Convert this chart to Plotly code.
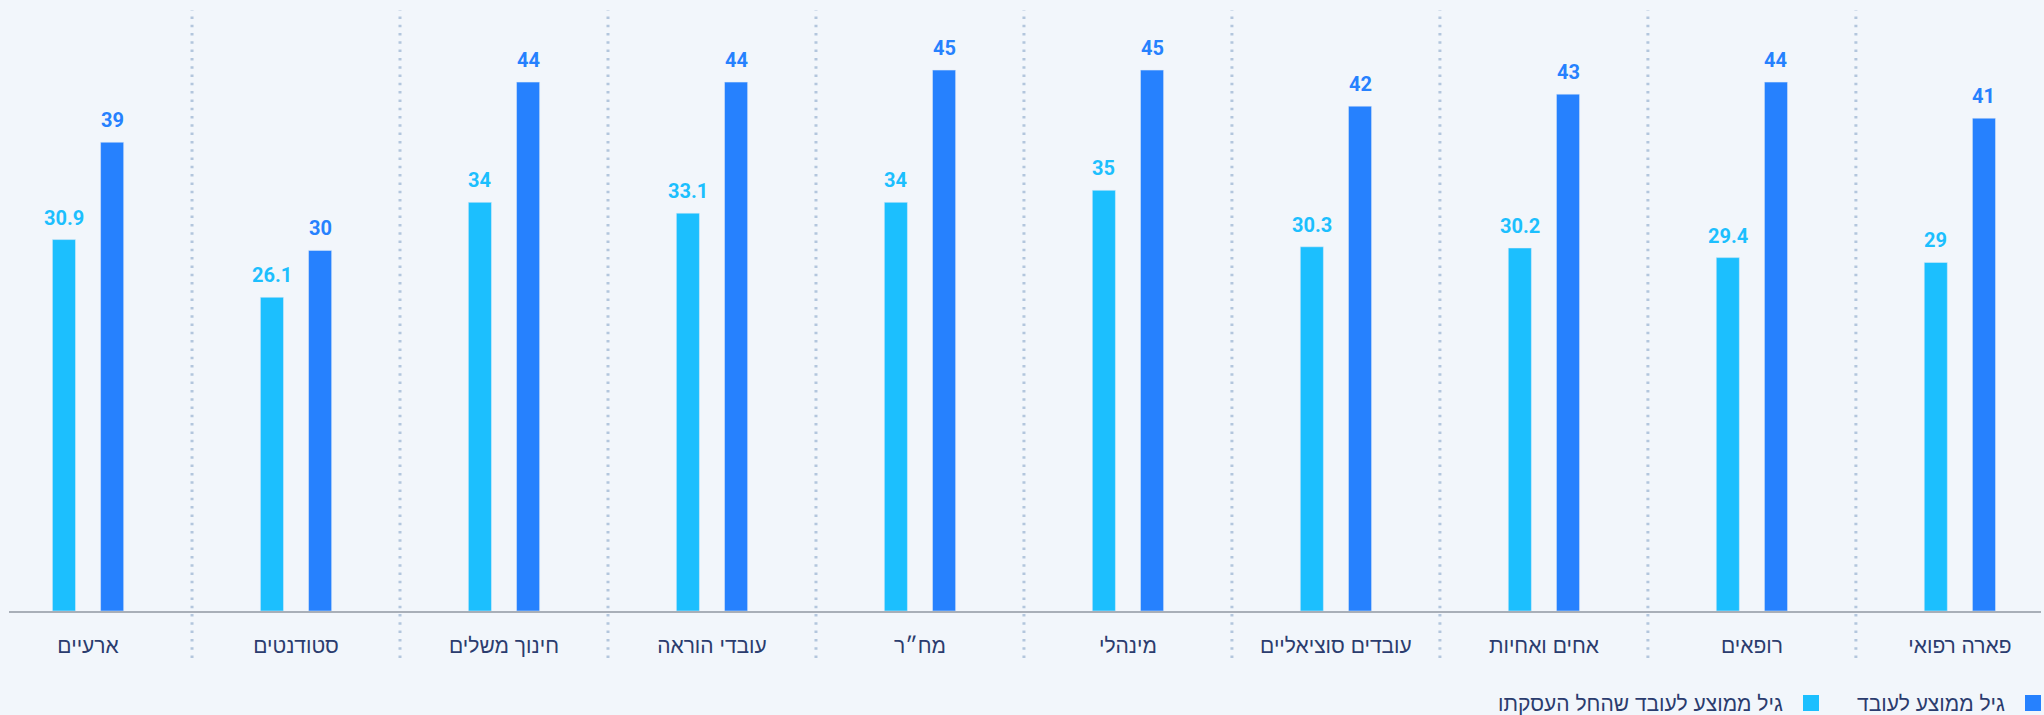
import plotly.graph_objects as go

categories = ["ארעיים", "סטודנטים", "חינוך משלים", "עובדי הוראה", "מח״ר",
              "מינהלי", "עובדים סוציאליים", "אחים ואחיות", "רופאים", "פארה רפואי"]
age_at_hire = [30.9, 26.1, 34, 33.1, 34, 35, 30.3, 30.2, 29.4, 29]
avg_age = [39, 30, 44, 44, 45, 45, 42, 43, 44, 41]

series_names = ["גיל ממוצע לעובד שהחל העסקתו", "גיל ממוצע לעובד"]
light = "#1CBFFE"
dark = "#2681FE"
navy = "#2B3C6E"
bg = "#F2F6FB"

W, H = 2044, 715
L, R, T, B = 9, 3, 10, 104
pw, ph = W - L - R, H - T - B


def px_x(p):
    return (p - L) / pw


def px_y(p):
    return (H - B - p) / ph


bw = 0.111
off = 0.1158

fig = go.Figure()
fig.add_bar(x=list(range(len(categories))), y=age_at_hire, name=series_names[0],
            marker_color=light, width=bw, offset=-off - bw / 2)
fig.add_bar(x=list(range(len(categories))), y=avg_age, name=series_names[1],
            marker_color=dark, width=bw, offset=off - bw / 2)

# value labels above bars
for i, (a, b) in enumerate(zip(age_at_hire, avg_age)):
    for v, dx, c in ((a, -off, light), (b, off, dark)):
        fig.add_annotation(x=i + dx, y=v, text=f"{v:g}", showarrow=False,
                           yanchor="bottom", yshift=8,
                           font=dict(family="Roboto", size=20, color=c, weight="bold"))

# dotted separators between categories
for i in range(len(categories) - 1):
    fig.add_shape(type="line", xref="x", yref="paper", x0=i + 0.5, x1=i + 0.5,
                  y0=px_y(658), y1=1, line=dict(color="#B3C6DD", width=3, dash="2.5px,5.8px"))

# legend drawn right-to-left
legend_items = [(series_names[1], dark, 2025, 2007), (series_names[0], light, 1803, 1785)]
for name, c, sq, tx in legend_items:
    fig.add_shape(type="rect", xref="paper", yref="paper",
                  x0=px_x(sq), x1=px_x(sq + 16), y0=px_y(711), y1=px_y(695),
                  fillcolor=c, line_width=0)
    fig.add_annotation(xref="paper", yref="paper", x=px_x(tx), y=px_y(703),
                       text=name, showarrow=False, xanchor="right", yanchor="middle",
                       font=dict(family="Liberation Sans", size=21, color=navy))

fig.update_xaxes(tickmode="array", tickvals=list(range(len(categories))), ticktext=categories,
                 range=[-0.38, len(categories) - 1 + 0.39], showgrid=False,
                 showline=True, linecolor="#A9AFB8", linewidth=2,
                 ticks="", ticklabelstandoff=15,
                 tickfont=dict(family="Liberation Sans", size=21, color=navy))
fig.update_yaxes(range=[0, 50], visible=False)

fig.update_layout(
    width=W, height=H,
    barmode="group",
    showlegend=False,
    margin=dict(l=L, r=R, t=T, b=B),
    paper_bgcolor=bg,
    plot_bgcolor=bg,
)

fig.write_html("out.html", config={"displayModeBar": False},
               post_script="document.body.style.margin='0';document.body.style.overflow='hidden';")
